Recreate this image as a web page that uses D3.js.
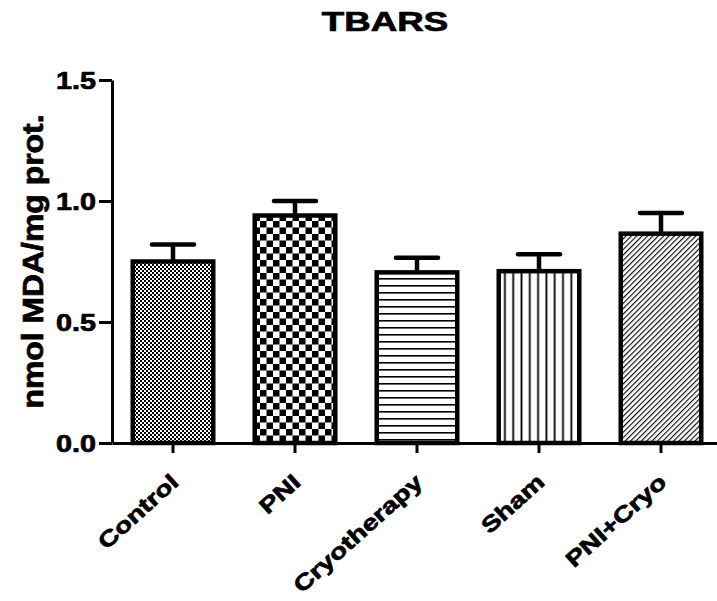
<!DOCTYPE html>
<html>
<head>
<meta charset="utf-8">
<script src="https://cdn.jsdelivr.net/npm/d3@7"></script>
<style>
	body { margin: 0; background: #fff; }
	.chart text {
		font-family: "Liberation Sans", Arial, sans-serif;
		font-weight: bold;
		fill: #000;
		stroke: #000;
		stroke-width: 0.7px;
	}
</style>
</head>
<body>
<div class="chart tbars"></div>
<script>
// values (mean and SEM)
const groups = ["Control", "PNI", "Cryotherapy", "Sham", "PNI+Cryo"];
const means = [0.75, 0.94, 0.705, 0.71, 0.865];
const errors = [0.07, 0.06, 0.06, 0.07, 0.085];
const yTicks = [0.0, 0.5, 1.0, 1.5];
const fills = ["checkFine", "checkBig", "hLines", "vLines", "diag"];

const width = 717;
const height = 601;
const margin = { top: 80, right: -5, bottom: 158, left: 112 };

const svg = d3
	.select(".tbars")
	.append("svg")
	.attr("width", width)
	.attr("height", height);

svg.append("rect").attr("width", width).attr("height", height).attr("fill", "#fff");

// hatch patterns
const defs = svg.append("defs");

const checkFine = defs.append("pattern")
	.attr("id", "checkFine")
	.attr("patternUnits", "userSpaceOnUse")
	.attr("width", 4).attr("height", 4);
checkFine.append("rect").attr("width", 4).attr("height", 4).attr("fill", "#fff");
checkFine.append("rect").attr("width", 2).attr("height", 2).attr("fill", "#000");
checkFine.append("rect").attr("x", 2).attr("y", 2).attr("width", 2).attr("height", 2).attr("fill", "#000");

const checkBig = defs.append("pattern")
	.attr("id", "checkBig")
	.attr("patternUnits", "userSpaceOnUse")
	.attr("width", 13).attr("height", 13);
checkBig.append("rect").attr("width", 13).attr("height", 13).attr("fill", "#fff");
checkBig.append("rect").attr("width", 6.5).attr("height", 6.5).attr("fill", "#000");
checkBig.append("rect").attr("x", 6.5).attr("y", 6.5).attr("width", 6.5).attr("height", 6.5).attr("fill", "#000");

const hLines = defs.append("pattern")
	.attr("id", "hLines")
	.attr("patternUnits", "userSpaceOnUse")
	.attr("width", 7).attr("height", 7);
hLines.append("rect").attr("width", 7).attr("height", 7).attr("fill", "#fff");
hLines.append("rect").attr("y", 5).attr("width", 7).attr("height", 1.6).attr("fill", "#000");

const vLines = defs.append("pattern")
	.attr("id", "vLines")
	.attr("patternUnits", "userSpaceOnUse")
	.attr("width", 8.3).attr("height", 8);
vLines.append("rect").attr("width", 8.3).attr("height", 8).attr("fill", "#fff");
vLines.append("rect").attr("x", 6).attr("width", 1.8).attr("height", 8).attr("fill", "#000");

const diag = defs.append("pattern")
	.attr("id", "diag")
	.attr("patternUnits", "userSpaceOnUse")
	.attr("width", 8).attr("height", 3.8)
	.attr("patternTransform", "rotate(-45)");
diag.append("rect").attr("width", 8).attr("height", 3.8).attr("fill", "#fff");
diag.append("rect").attr("y", 1).attr("width", 8).attr("height", 1.1).attr("fill", "#000");

const xScale = d3
	.scaleBand()
	.domain(groups)
	.range([margin.left, width - margin.right])
	.paddingInner(0.34)
	.paddingOuter(0.17);

const yScale = d3
	.scaleLinear()
	.domain([0, 1.5])
	.range([height - margin.bottom, margin.top]);

const data = groups.map((g, i) => ({ g, m: means[i], e: errors[i], fill: fills[i] }));

// bars
svg.append("g")
	.selectAll("rect")
	.data(data)
	.join("rect")
	.attr("x", (d) => xScale(d.g))
	.attr("y", (d) => yScale(d.m))
	.attr("width", xScale.bandwidth())
	.attr("height", (d) => yScale(0) - yScale(d.m))
	.attr("fill", (d) => `url(#${d.fill})`)
	.attr("stroke", "#000")
	.attr("stroke-width", 4.5);

// error bars (upper only)
const err = svg.append("g").attr("stroke", "#000").attr("stroke-width", 4.5);
err.selectAll(".stem")
	.data(data)
	.join("line")
	.attr("class", "stem")
	.attr("x1", (d) => xScale(d.g) + xScale.bandwidth() / 2)
	.attr("x2", (d) => xScale(d.g) + xScale.bandwidth() / 2)
	.attr("y1", (d) => yScale(d.m))
	.attr("y2", (d) => yScale(d.m + d.e));
err.selectAll(".cap")
	.data(data)
	.join("line")
	.attr("class", "cap")
	.attr("stroke-linecap", "round")
	.attr("x1", (d) => xScale(d.g) + xScale.bandwidth() / 2 - 21)
	.attr("x2", (d) => xScale(d.g) + xScale.bandwidth() / 2 + 21)
	.attr("y1", (d) => yScale(d.m + d.e))
	.attr("y2", (d) => yScale(d.m + d.e));

// axes
const yAxis = svg.append("g")
	.attr("transform", `translate(${margin.left},0)`)
	.call(
		d3.axisLeft(yScale)
			.tickValues(yTicks)
			.tickFormat(d3.format(".1f"))
			.tickSize(13)
			.tickSizeOuter(0)
			.tickPadding(5)
	);
yAxis.select(".domain").attr("stroke-width", 3);
yAxis.selectAll(".tick line").attr("stroke-width", 3);
// the original export draws its text a bit stretched sideways
yAxis.selectAll(".tick text")
	.style("font-size", "23px")
	.attr("x", null)
	.attr("dy", "0.36em")
	.attr("transform", "translate(-16,0) scale(1.25,1)");

const xAxis = svg.append("g")
	.attr("transform", `translate(0,${yScale(0)})`)
	.call(d3.axisBottom(xScale).tickSize(10).tickSizeOuter(0));
xAxis.select(".domain").attr("stroke-width", 3);
xAxis.selectAll(".tick line").attr("stroke-width", 3);
xAxis.selectAll(".tick text")
	.style("font-size", "22px")
	.attr("text-anchor", "end")
	.attr("x", null)
	.attr("y", null)
	.attr("dy", null)
	.attr("transform", "translate(7,41) rotate(-42) scale(1.27,1)");

// title and y label
svg.append("text")
	.attr("transform", "translate(385,31) scale(1.36,1)")
	.attr("text-anchor", "middle")
	.style("font-size", "27px")
	.text("TBARS");

svg.append("text")
	.attr("transform", `translate(43,${(yScale(0) + yScale(1.5)) / 2}) rotate(-90) scale(1.1,1)`)
	.attr("text-anchor", "middle")
	.style("font-size", "29px")
	.text("nmol MDA/mg prot.");
</script>
</body>
</html>
